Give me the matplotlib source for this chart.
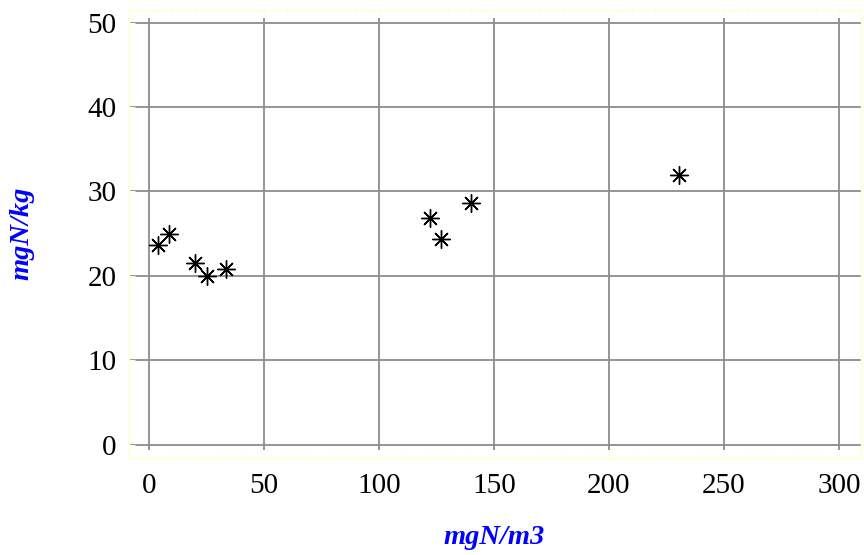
import matplotlib
matplotlib.use('Agg')
import matplotlib.pyplot as plt
from matplotlib.ticker import MultipleLocator

# nitrogen: air concentration vs. soil content
conc = [3.8, 8.9, 20.1, 25.0, 33.3, 122.0, 127.0, 139.8, 230.3]
content = [23.6, 25.0, 21.5, 20.0, 20.8, 26.8, 24.4, 28.6, 32.0]
x_ticks = [0, 50, 100, 150, 200, 250, 300]
y_ticks = [0, 10, 20, 30, 40, 50]
x_label = 'mgN/m3'
y_label = 'mgN/kg'

plt.rcParams['font.family'] = ['Liberation Serif', 'DejaVu Serif']

W, H = 864, 555
fig = plt.figure(figsize=(W / 100, H / 100), dpi=100)
ax = fig.add_axes([129 / W, 1 - 458 / H, 732 / W, 448 / H])

ax.set_xlim(-8.7, 309.6)
ax.set_ylim(-1.6, 51.5)

grid_kw = dict(color='#8c8c8c', linewidth=1.3, zorder=1)
ax.hlines(y_ticks, -8.7, 309.6, **grid_kw)
ax.vlines(x_ticks, -0.6, 50.5, **grid_kw)

ax.plot(conc, content, linestyle='none', marker=(8, 2, 0), markersize=13,
        markeredgewidth=1.0, color='black', zorder=3)
ax.plot(conc, content, linestyle='none', marker='o', markersize=2.5,
        color='black', zorder=4)

ax.set_xticks(x_ticks)
ax.set_yticks(y_ticks)
ax.xaxis.set_minor_locator(MultipleLocator(10))
ax.tick_params(axis='both', which='major', labelsize=21, length=4,
               direction='in', color='#ffffd0')
ax.tick_params(axis='x', which='major', pad=11, top=True)
ax.tick_params(axis='y', which='major', pad=9)
ax.tick_params(axis='x', which='minor', length=4, direction='in',
               color='#ffffd0', top=True)

for s in ax.spines.values():
    s.set_color('#ffffd0')
    s.set_linewidth(1.0)

label_kw = dict(fontsize=20.5, fontweight='bold', fontstyle='italic',
                color='#0000ff', ha='center', va='center')
fig.text(494 / W, 1 - 538 / H, x_label, **label_kw)
fig.text(22 / W, 1 - 233 / H, y_label, rotation=90, **label_kw)

fig.savefig('out.png', dpi=100, facecolor='white')
plt.close(fig)
